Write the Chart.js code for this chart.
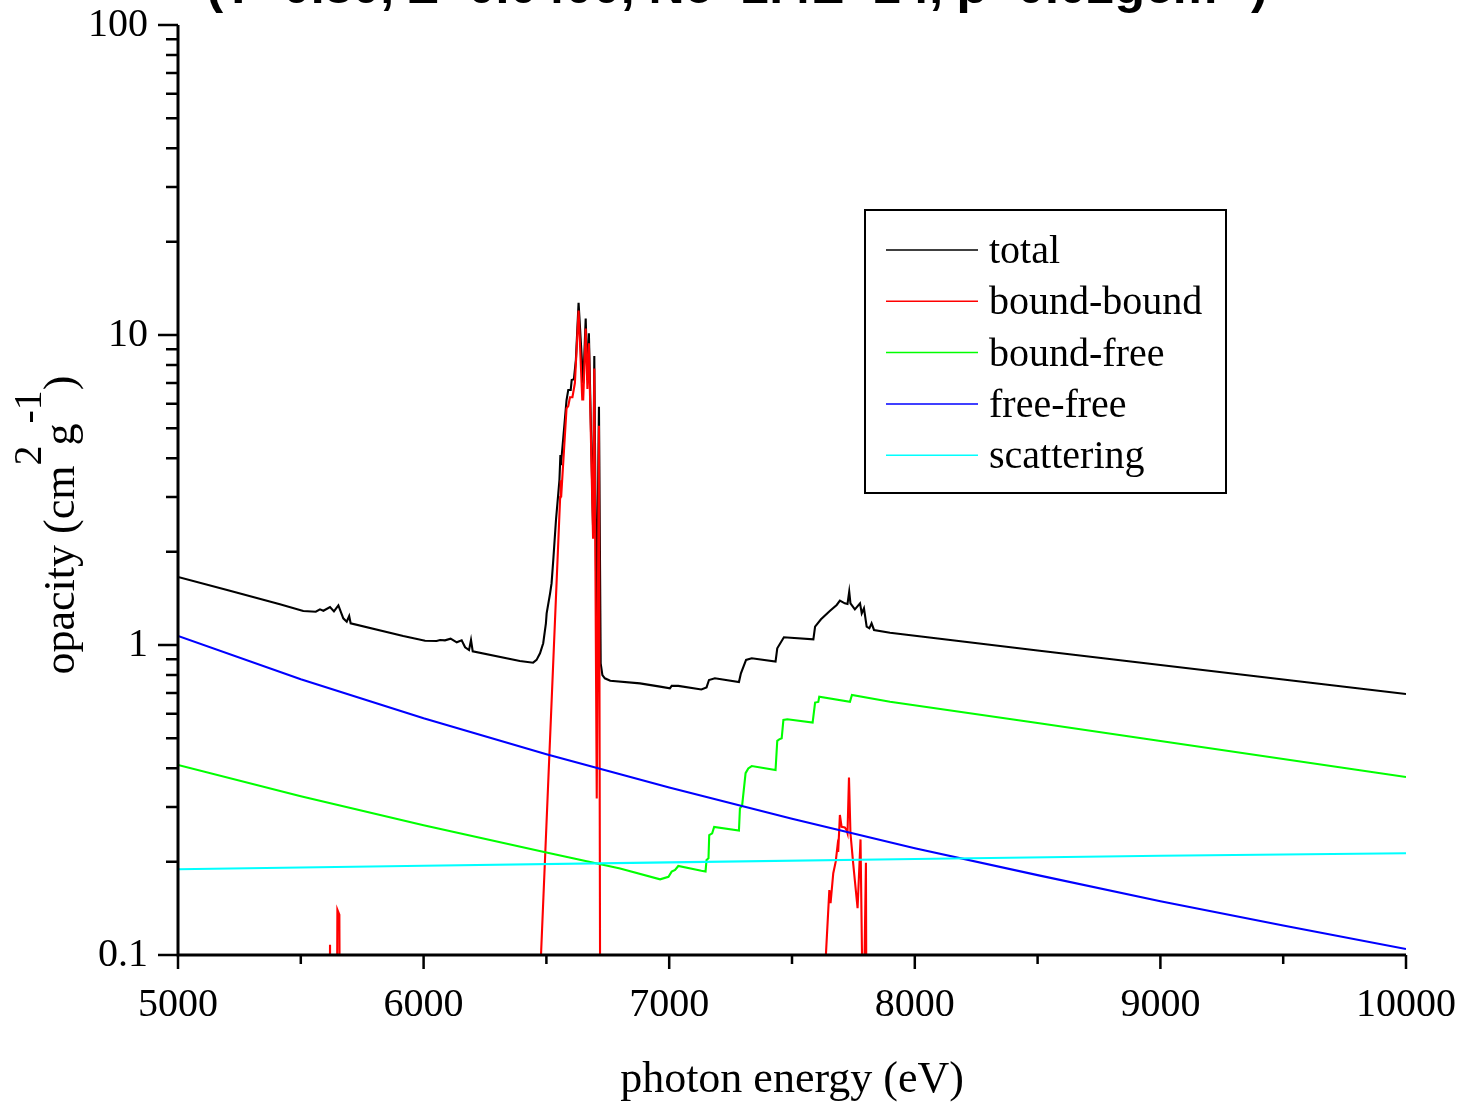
<!DOCTYPE html>
<html>
<head>
<meta charset="utf-8">
<script src="https://cdn.jsdelivr.net/npm/chart.js@4.4.1/dist/chart.umd.min.js"></script>
<style>
  body { margin: 0; background: #fff; }
  #wrap { width: 1470px; height: 1105px; }
</style>
</head>
<body>
<div id="wrap"><canvas id="myChart"></canvas></div>
<script>
// photon energy (eV) / opacity (cm^2 g^-1)

const totalE = [5000, 5200, 5415, 5510, 5561, 5578, 5592, 5619, 5635, 5653, 5673, 5687, 5697, 5703, 5917, 6006, 6053, 6067, 6087, 6110, 6135, 6155, 6169, 6185, 6193, 6200, 6392, 6446, 6460, 6474, 6487, 6498, 6501, 6515, 6521, 6528, 6539, 6553, 6557, 6559, 6582, 6589, 6599, 6603, 6612, 6620, 6631, 6650, 6660, 6667, 6673, 6690, 6695, 6704, 6714, 6721, 6728, 6738, 6760, 6881, 6963, 7003, 7010, 7037, 7131, 7152, 7162, 7186, 7284, 7292, 7313, 7336, 7433, 7440, 7467, 7587, 7594, 7618, 7655, 7682, 7695, 7715, 7726, 7733, 7738, 7756, 7777, 7784, 7793, 7804, 7815, 7824, 7834, 7899, 8500, 9000, 9500, 10000];
const totalVal = [1.657, 1.504, 1.353, 1.287, 1.28, 1.303, 1.29, 1.326, 1.284, 1.342, 1.219, 1.189, 1.24, 1.175, 1.069, 1.032, 1.03, 1.038, 1.035, 1.048, 1.02, 1.035, 0.983, 0.963, 1.038, 0.954, 0.888, 0.877, 0.895, 0.94, 1.013, 1.175, 1.265, 1.468, 1.58, 1.88, 2.53, 3.40, 4.1, 3.8, 6.17, 6.65, 6.65, 7.16, 7.2, 8.3, 12.7, 6.98, 11.3, 7.16, 10.13, 2.4, 8.55, 1.12, 5.87, 0.873, 0.80, 0.781, 0.767, 0.752, 0.734, 0.725, 0.738, 0.738, 0.719, 0.73, 0.771, 0.781, 0.760, 0.810, 0.895, 0.906, 0.884, 0.976, 1.059, 1.043, 1.146, 1.21, 1.29, 1.346, 1.39, 1.363, 1.356, 1.486, 1.363, 1.303, 1.363, 1.265, 1.313, 1.146, 1.132, 1.175, 1.118, 1.095, 0.96, 0.862, 0.774, 0.695];

const bbE = [5000, 5612, 5619, 5626, 5643, 5649, 5657, 5663, 6470, 6478, 6556, 6558, 6560, 6582, 6589, 6596, 6606, 6616, 6631, 6646, 6650, 6660, 6667, 6673, 6690, 6695, 6705, 6714, 6721, 7630, 7638, 7652, 7657, 7668, 7678, 7685, 7688, 7695, 7702, 7715, 7722, 7726, 7732, 7738, 7749, 7767, 7779, 7790, 7801, 7806, 10000];
const bbVal = [0.01, 0.01, 0.108, 0.01, 0.01, 0.14, 0.135, 0.01, 0.01, 0.1, 3.0, 3.4, 3.0, 5.8, 5.9, 6.3, 6.3, 7.0, 12.0, 6.2, 6.2, 10.5, 6.7, 9.4, 2.2, 7.8, 0.32, 5.1, 0.01, 0.01, 0.1, 0.162, 0.147, 0.1835, 0.2, 0.2236, 0.215, 0.283, 0.259, 0.258, 0.253, 0.247, 0.374, 0.247, 0.198, 0.1415, 0.236, 0.05, 0.1985, 0.01, 0.01];

const bfE = [5000, 5500, 6000, 6500, 6800, 6963, 6997, 7010, 7024, 7037, 7131, 7148, 7152, 7160, 7163, 7175, 7183, 7284, 7288, 7297, 7311, 7322, 7336, 7433, 7440, 7448, 7458, 7465, 7481, 7584, 7594, 7607, 7611, 7736, 7744, 7899, 8500, 9000, 9500, 10000];
const bfVal = [0.41, 0.325, 0.262, 0.214, 0.19, 0.1754, 0.1788, 0.1857, 0.188, 0.1937, 0.187, 0.186, 0.2025, 0.205, 0.2438, 0.2468, 0.259, 0.2519, 0.2973, 0.304, 0.386, 0.40, 0.407, 0.395, 0.491, 0.496, 0.50, 0.573, 0.576, 0.562, 0.652, 0.655, 0.681, 0.656, 0.690, 0.656, 0.56, 0.49, 0.429, 0.375];

const ffE = [5000, 5500, 6000, 6500, 7000, 7500, 8000, 8500, 9000, 9500, 10000];
const ffVal = [1.07, 0.776, 0.58, 0.444, 0.347, 0.275, 0.221, 0.181, 0.149, 0.1245, 0.1045];

const scE = [5000, 6000, 7000, 8000, 9000, 10000];
const scVal = [0.189, 0.194, 0.199, 0.204, 0.209, 0.213];

const seriesNames = ["total", "bound-bound", "bound-free", "free-free", "scattering"];
const seriesColors = ["#000000", "#ff0000", "#00ff00", "#0000ff", "#00ffff"];
const xTicks = [5000, 6000, 7000, 8000, 9000, 10000];
const yTicks = [0.1, 1, 10, 100];
const headerText = "(T=0.80, Z=0.0400, Ne=2.4E+24, ρ=0.02gcm⁻³)";

const serif = '"Liberation Serif", "Times New Roman", serif';

const toPoints = (xs, ys) => xs.map((x, i) => ({ x: x, y: ys[i] }));
const allSeries = [
  toPoints(totalE, totalVal),
  toPoints(bbE, bbVal),
  toPoints(bfE, bfVal),
  toPoints(ffE, ffVal),
  toPoints(scE, scVal),
];

// axes, tick marks, titles, legend box and the clipped header
const decor = {
  id: "decor",
  afterDraw(chart) {
    const { ctx, chartArea: a, scales } = chart;
    const x = scales.x, y = scales.y;
    ctx.save();

    // tick marks
    ctx.strokeStyle = "#000";
    ctx.lineWidth = 2.5;
    ctx.beginPath();
    for (let v = x.min; v <= x.max; v += 500) {
      const px = x.getPixelForValue(v);
      const len = xTicks.includes(v) ? 14 : 9;
      ctx.moveTo(px, a.bottom);
      ctx.lineTo(px, a.bottom + len);
    }
    for (let d = 0.1; d < 100; d *= 10) {
      for (let k = 1; k <= 10; k++) {
        const py = y.getPixelForValue(k * d);
        const len = (k === 1 || k === 10) ? 20 : 12;
        ctx.moveTo(a.left, py);
        ctx.lineTo(a.left - len, py);
      }
    }
    ctx.stroke();

    // axis lines
    ctx.lineWidth = 3;
    ctx.beginPath();
    ctx.moveTo(a.left, a.top);
    ctx.lineTo(a.left, a.bottom);
    ctx.lineTo(a.right, a.bottom);
    ctx.stroke();

    ctx.fillStyle = "#000";
    // x title
    ctx.font = "44px " + serif;
    ctx.textAlign = "center";
    ctx.textBaseline = "alphabetic";
    ctx.fillText("photon energy (eV)", (a.left + a.right) / 2, 1092);

    // y title with superscripts
    const parts = [
      ["opacity (cm", 44, 0], ["2", 40, -33], ["g", 44, 0], ["-1", 40, -33], [")", 44, 0],
    ];
    let w = 0;
    parts.forEach(p => { ctx.font = p[1] + "px " + serif; w += ctx.measureText(p[0]).width; });
    ctx.translate(74, 525);
    ctx.rotate(-Math.PI / 2);
    ctx.textAlign = "left";
    let cx = -w / 2;
    parts.forEach(p => {
      ctx.font = p[1] + "px " + serif;
      ctx.fillText(p[0], cx, p[2]);
      cx += ctx.measureText(p[0]).width;
    });
    ctx.setTransform(1, 0, 0, 1, 0, 0);

    // legend
    ctx.lineWidth = 2;
    ctx.strokeRect(865, 210, 361, 283);
    ctx.font = "40px " + serif;
    ctx.textAlign = "left";
    chart.data.datasets.forEach((ds, i) => {
      const ry = 250 + i * 51.3;
      ctx.strokeStyle = ds.borderColor;
      ctx.lineWidth = 1.5;
      ctx.beginPath();
      ctx.moveTo(886, ry);
      ctx.lineTo(978, ry);
      ctx.stroke();
      ctx.fillText(ds.label, 989, ry + 13);
    });

    // header, cut off by the top edge as in the original
    ctx.font = 'bold 50px "Liberation Sans", Arial, sans-serif';
    ctx.textAlign = "center";
    ctx.fillText(headerText, 737, 3);
    ctx.restore();
  },
};

const ctx = document.getElementById("myChart");
const myChart = new Chart(ctx, {
  type: "line",
  data: {
    datasets: allSeries.map((pts, i) => ({
      label: seriesNames[i],
      data: pts,
      borderColor: seriesColors[i],
      borderWidth: 2.1,
      pointRadius: 0,
      tension: 0,
      fill: false,
      order: seriesNames.length - i,
    })),
  },
  options: {
    animation: false,
    responsive: true,
    maintainAspectRatio: false,
    layout: { padding: { top: 25, right: 64, left: 0, bottom: 0 } },
    plugins: { legend: { display: false }, tooltip: { enabled: false } },
    scales: {
      x: {
        type: "linear",
        min: 5000,
        max: 10000,
        afterFit: (s) => { s.height = 150; s.paddingLeft = 0; s.paddingRight = 0; },
        afterBuildTicks: (s) => { s.ticks = xTicks.map(v => ({ value: v })); },
        grid: { display: false, drawTicks: false },
        border: { display: false },
        ticks: {
          color: "#000",
          font: { family: serif, size: 40 },
          padding: 26,
          maxRotation: 0,
          autoSkip: false,
          callback: (v) => String(v),
        },
      },
      y: {
        type: "logarithmic",
        min: 0.1,
        max: 100,
        afterFit: (s) => { s.width = 178; s.paddingTop = 0; s.paddingBottom = 0; },
        afterBuildTicks: (s) => { s.ticks = yTicks.map(v => ({ value: v })); },
        grid: { display: false, drawTicks: false },
        border: { display: false },
        ticks: {
          color: "#000",
          font: { family: serif, size: 40 },
          padding: 30,
          autoSkip: false,
          callback: (v) => String(v),
        },
      },
    },
  },
  plugins: [decor],
});
</script>
</body>
</html>
